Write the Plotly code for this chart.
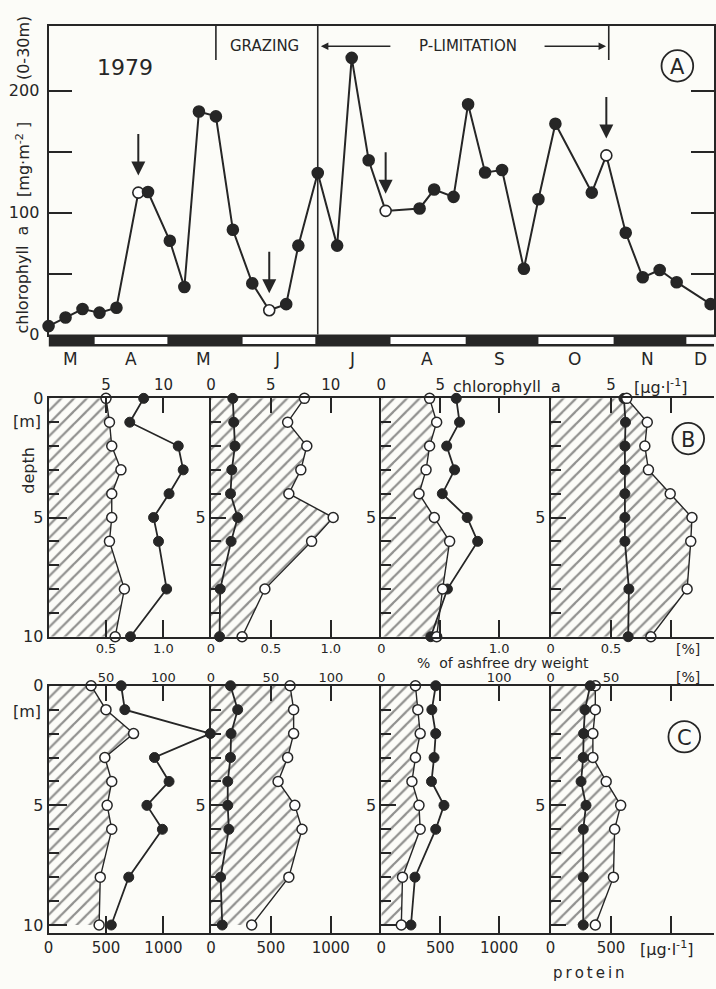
import plotly.graph_objects as go

INK = "#262626"
BG = "#fcfcf8"
FONT = "DejaVu Sans"

W, H = 716, 989


def px(x):
    return x / W


def py(y):
    return 1 - y / H


# ---------------- data ----------------
# Panel A: areal chlorophyll a (0-30 m), mg m-2
sample_dates = ["1979-03-13", "1979-03-20", "1979-03-27", "1979-04-03", "1979-04-10",
                "1979-04-19", "1979-04-23", "1979-05-02", "1979-05-08", "1979-05-14",
                "1979-05-21", "1979-05-28", "1979-06-05", "1979-06-12", "1979-06-19",
                "1979-06-24", "1979-07-02", "1979-07-10", "1979-07-16", "1979-07-23",
                "1979-07-30", "1979-08-13", "1979-08-19", "1979-08-27", "1979-09-02",
                "1979-09-09", "1979-09-16", "1979-09-25", "1979-10-01", "1979-10-08",
                "1979-10-23", "1979-10-29", "1979-11-06", "1979-11-13", "1979-11-20",
                "1979-11-27", "1979-12-11"]
chl_areal = [7, 14, 21, 18, 22, 116.5, 117, 77, 39, 183,
             179, 86, 42, 20, 25, 73, 132.5, 73, 227, 143,
             101.5, 103.5, 119, 113, 189, 133, 135, 54, 111, 173,
             116.5, 147, 83.5, 47, 53, 43, 25]
profile_dates = ["1979-04-19", "1979-06-12", "1979-07-30", "1979-10-29"]

month_labels = ["M", "A", "M", "J", "J", "A", "S", "O", "N", "D"]
month_label_dates = ["1979-03-22", "1979-04-16", "1979-05-16", "1979-06-15", "1979-07-16",
                     "1979-08-16", "1979-09-15", "1979-10-16", "1979-11-15", "1979-12-07"]
white_months = [("1979-04-01", "1979-05-01"), ("1979-06-01", "1979-07-01"),
                ("1979-08-01", "1979-09-01"), ("1979-10-01", "1979-11-01"),
                ("1979-12-01", "1979-12-12 09:36")]
x_range = ["1979-03-13", "1979-12-12 09:36"]
grazing_start = "1979-05-21"
plim_start = "1979-07-02"
plim_end = "1979-10-30"

# Panels B and C: depth profiles on the four profile dates
depths = [0, 1, 2, 3, 4, 5, 6, 8, 10]
# B: chlorophyll a concentration (ug/l, filled) and % of ash-free dry weight (open, hatched)
chl_conc = [
    [8.28, 7.07, 11.29, 11.72, 10.49, 9.14, 9.57, 10.28, 7.13],
    [1.82, 1.90, 2.00, 1.74, 1.63, 2.23, 1.68, 0.77, 0.72],
    [6.36, 6.64, 5.55, 6.22, 5.18, 7.29, 8.18, 5.61, 4.20],
    [6.07, 6.20, 6.15, 6.15, 6.15, 6.15, 6.15, 6.48, 6.42],
]
chl_pct = [
    [0.50, 0.53, 0.55, 0.63, 0.55, 0.55, 0.53, 0.66, 0.58],
    [0.78, 0.64, 0.80, 0.75, 0.65, 1.02, 0.84, 0.45, 0.26],
    [0.41, 0.47, 0.41, 0.38, 0.32, 0.45, 0.58, 0.52, 0.47],
    [0.63, 0.80, 0.78, 0.81, 0.99, 1.17, 1.16, 1.13, 0.83],
]
# C: protein % of ash-free dry weight (open, hatched) and protein concentration (ug/l, filled)
prot_pct = [
    [37, 50, 74, 49, 55, 51, 55, 45, 44],
    [66, 69, 69, 64, 56, 70, 76, 65, 34],
    [29, 31, 33, 29, 26, 32, 33, 18, 17],
    [37, 37, 35, 35, 46, 58, 53, 52, 37],
]
prot_conc = [
    [632, 664, 1408, 922, 1049, 856, 991, 698, 546],
    [163, 223, 168, 163, 140, 140, 149, 80, 94],
    [462, 429, 462, 448, 426, 532, 462, 286, 252],
    [328, 284, 273, 270, 252, 293, 270, 270, 270],
]

# tick labels
b_top_ticks = [([5, 10], ["5", "10"]), ([0, 5, 10], ["0", "5", "10"]),
               ([0, 5, 10], ["0", "5", ""]), ([5, 10], ["5", ""])]
b_bot_ticks = [([0.5, 1.0], ["0.5", "1.0"]), ([0, 0.5, 1.0], ["0", "0.5", "1.0"]),
               ([0, 0.5, 1.0], ["0", "", "1.0"]), ([0, 0.5, 1.0], ["0", "0.5", ""])]
c_top_ticks = [([50, 100], ["50", "100"]), ([0, 50, 100], ["0", "50", "100"]),
               ([0, 50, 100], ["0", "", "100"]), ([0, 50, 100], ["0", "50", ""])]
c_bot_ticks = [([0, 500, 1000], ["0", "500", "1000"]), ([0, 500, 1000], ["0", "500", "1000"]),
               ([0, 500, 1000], ["0", "500", "1000"]), ([0, 500, 1000], ["0", "500", ""])]

# ---------------- layout geometry ----------------
col_edges = [44, 208, 380, 551, 716]
col_scale = [11.6, 12.1, 11.9, 12.2]   # px per chl unit (= per 10 %)

fig = go.Figure()
layout = dict(
    width=W, height=H, autosize=False,
    margin=dict(l=0, r=0, t=0, b=0, pad=0),
    paper_bgcolor=BG, plot_bgcolor=BG,
    showlegend=False,
    font=dict(family=FONT, color=INK, size=15),
)

# Panel A
open_set = set(profile_dates)
fig.add_trace(go.Scatter(
    x=sample_dates, y=chl_areal, mode="lines+markers", xaxis="x", yaxis="y",
    line=dict(color=INK, width=2),
    marker=dict(size=11, color=["white" if d in open_set else INK for d in sample_dates],
                line=dict(color=INK, width=1.6)),
    cliponaxis=False, hoverinfo="x+y"))

layout["xaxis"] = dict(type="date", domain=[px(44), 1], anchor="y", range=x_range,
                       showline=True, mirror=True, linecolor=INK, linewidth=2,
                       showgrid=False, zeroline=False, showticklabels=False, ticks="")
layout["yaxis"] = dict(domain=[py(332), py(17)], anchor="x", range=[0, 253.4],
                       showline=True, mirror="ticks", linecolor=INK, linewidth=2,
                       ticks="inside", ticklen=23, tickwidth=2, tickcolor=INK,
                       tickvals=[0, 50, 100, 150, 200], ticktext=["0", "", "100", "", "200"],
                       tickfont=dict(size=16), ticklabelstandoff=4,
                       showgrid=False, zeroline=False)

shapes = []
annotations = []


def text(x, y, t, size=15, angle=0):
    return dict(x=px(x), y=py(y), xref="paper", yref="paper", text=t, showarrow=False,
                xanchor="center", yanchor="middle", textangle=angle, font=dict(size=size))


# month strip
shapes.append(dict(type="rect", xref="x", yref="paper", x0=x_range[0], x1=x_range[1],
                   y0=py(344), y1=py(332), fillcolor=INK, line=dict(width=0), layer="above"))
for a, b in white_months:
    shapes.append(dict(type="rect", xref="x", yref="paper", x0=a, x1=b,
                       y0=py(341.5), y1=py(334.5), fillcolor="white",
                       line=dict(width=0), layer="above"))
for lab, d in zip(month_labels, month_label_dates):
    annotations.append(dict(x=d, y=py(357), xref="x", yref="paper", text=lab,
                            xanchor="center", yanchor="middle",
                            showarrow=False, font=dict(size=17)))

# dividers
for d, ylow in [(grazing_start, 52), (plim_start, 332), (plim_end, 52)]:
    shapes.append(dict(type="line", xref="x", yref="paper", x0=d, x1=d,
                       y0=py(ylow), y1=py(17), line=dict(color=INK, width=1.6)))

annotations += [
    text(262, 38, "GRAZING", 15),
    text(468, 38, "P-LIMITATION", 15),
    dict(x=px(319), y=py(38), xref="paper", yref="paper", text="", showarrow=True,
         ax=71, ay=0, arrowhead=2, arrowsize=1, arrowwidth=1.5, arrowcolor=INK),
    dict(x=px(607), y=py(38), xref="paper", yref="paper", text="", showarrow=True,
         ax=-63, ay=0, arrowhead=2, arrowsize=1, arrowwidth=1.5, arrowcolor=INK),
    text(121, 60, "1979", 22),
    # y-axis title, split around the horizontal tick labels
    text(18, 40, "(0-30m)", 16, -90),
    text(18, 153, "[mg·m<sup>-2</sup> ]", 16, -90),
    text(18, 276, "chlorophyll  a", 16, -90),
]
for d in profile_dates:
    v = chl_areal[sample_dates.index(d)]
    annotations.append(dict(x=d, y=v, xref="x", yref="y", text="", showarrow=True,
                            ax=0, ay=-60, standoff=17, arrowhead=2, arrowsize=1.4,
                            arrowwidth=2, arrowcolor=INK))

# circled panel letters
for lab, cx, cy, r in [("A", 679, 58, 16), ("B", 690, 438, 16), ("C", 686, 742, 16)]:
    shapes.append(dict(type="circle", xref="paper", yref="paper",
                       x0=px(cx - r), x1=px(cx + r), y0=py(cy + r), y1=py(cy - r),
                       line=dict(color=INK, width=1.8)))
    annotations.append(text(cx, cy + 1, lab, 21))

# Panels B and C
hatch = dict(shape="/", fgcolor=INK, bgcolor="rgba(0,0,0,0)", size=9, solidity=0.25)
axis_common = dict(showline=True, linecolor=INK, linewidth=2, showgrid=False,
                   zeroline=False, tickwidth=2, tickcolor=INK)
n = 2
m = 2
# (name, top px, bottom px, depth range, %, conc, top ticks, bottom ticks,
#  top font, bottom font, top label standoff, bottom label standoff)
panels = [
    ("B", 397, 640, [10, 0], chl_pct, chl_conc, b_top_ticks, b_bot_ticks, 15, 13, 0, -1),
    ("C", 690, 942, [10.33, 0], prot_pct, prot_conc, c_top_ticks, c_bot_ticks, 13, 15, -3, 0),
]
for (name, ytop, ybot, yr, pct_data, conc_data, top_ticks, bot_ticks,
     fs_top, fs_bot, so_top, so_bot) in panels:
    for k in range(4):
        width = col_edges[k + 1] - col_edges[k]
        base = width / col_scale[k]
        if name == "B":
            top_range, bot_range = [0, base], [0, base / 10]
        else:
            top_range, bot_range = [0, base * 10], [0, base * 100]
        xt, xb, ya = f"x{n}", f"x{n + 1}", f"y{m}"
        dom = [px(col_edges[k]), px(col_edges[k + 1])]
        layout[f"xaxis{n}"] = dict(domain=dom, anchor=ya, side="top", range=top_range,
                                   ticks="inside", ticklen=15, ticklabelstandoff=so_top,
                                   tickvals=top_ticks[k][0], ticktext=top_ticks[k][1],
                                   tickfont=dict(size=fs_top), **axis_common)
        layout[f"xaxis{n + 1}"] = dict(domain=dom, anchor=ya, side="bottom", overlaying=xt,
                                       range=bot_range, ticks="inside", ticklen=17,
                                       ticklabelstandoff=so_bot,
                                       tickvals=bot_ticks[k][0], ticktext=bot_ticks[k][1],
                                       tickfont=dict(size=fs_bot), **axis_common)
        layout[f"yaxis{m}"] = dict(domain=[py(ybot), py(ytop)], anchor=xt, range=yr,
                                   ticks="inside", ticklen=18 if k == 0 else 15,
                                   tickvals=[0, 5, 10],
                                   ticktext=["0", "5", "10"] if k == 0 else ["", "5", ""],
                                   tickfont=dict(size=16),
                                   minor=dict(tickmode="linear", tick0=0, dtick=1,
                                              ticks="inside", ticklen=10, tickwidth=2,
                                              tickcolor=INK),
                                   **axis_common)
        pct_axis = xb if name == "B" else xt
        conc_axis = xt if name == "B" else xb
        fig.add_trace(go.Scatter(
            x=pct_data[k], y=depths, xaxis=pct_axis, yaxis=ya, mode="lines+markers",
            fill="tozerox", fillcolor="rgba(0,0,0,0)", fillpattern=hatch,
            line=dict(color=INK, width=1.4),
            marker=dict(size=10, color="white", line=dict(color=INK, width=1.5)),
            cliponaxis=False))
        fig.add_trace(go.Scatter(
            x=conc_data[k], y=depths, xaxis=conc_axis, yaxis=ya, mode="lines+markers",
            line=dict(color=INK, width=1.8),
            marker=dict(size=10, color=INK, line=dict(color=INK, width=1)),
            cliponaxis=False))
        n += 2
        m += 1

THIN = "\u2009"
annotations += [
    text(22, 421, "[m]", 16),
    text(22, 716, "[m]", 16),
    text(24, 470, "depth", 16, -90),
    text(507, 385, "chlorophyll  a", 16),
    text(662, 385, "[μg·l<sup>-1</sup>]", 16),
    text(690, 653, "[%]", 14),
    text(690, 681, "[%]", 14),
    text(503, 667, "%  of ashfree dry weight", 14),
    text(669, 958, "[μg·l<sup>-1</sup>]", 16),
    text(590, 983, THIN.join("protein"), 15),
]

layout["shapes"] = shapes
layout["annotations"] = annotations
fig.update_layout(**layout)
fig.write_html("out.html", config={"displayModeBar": False},
               post_script="document.body.style.margin='0';")
